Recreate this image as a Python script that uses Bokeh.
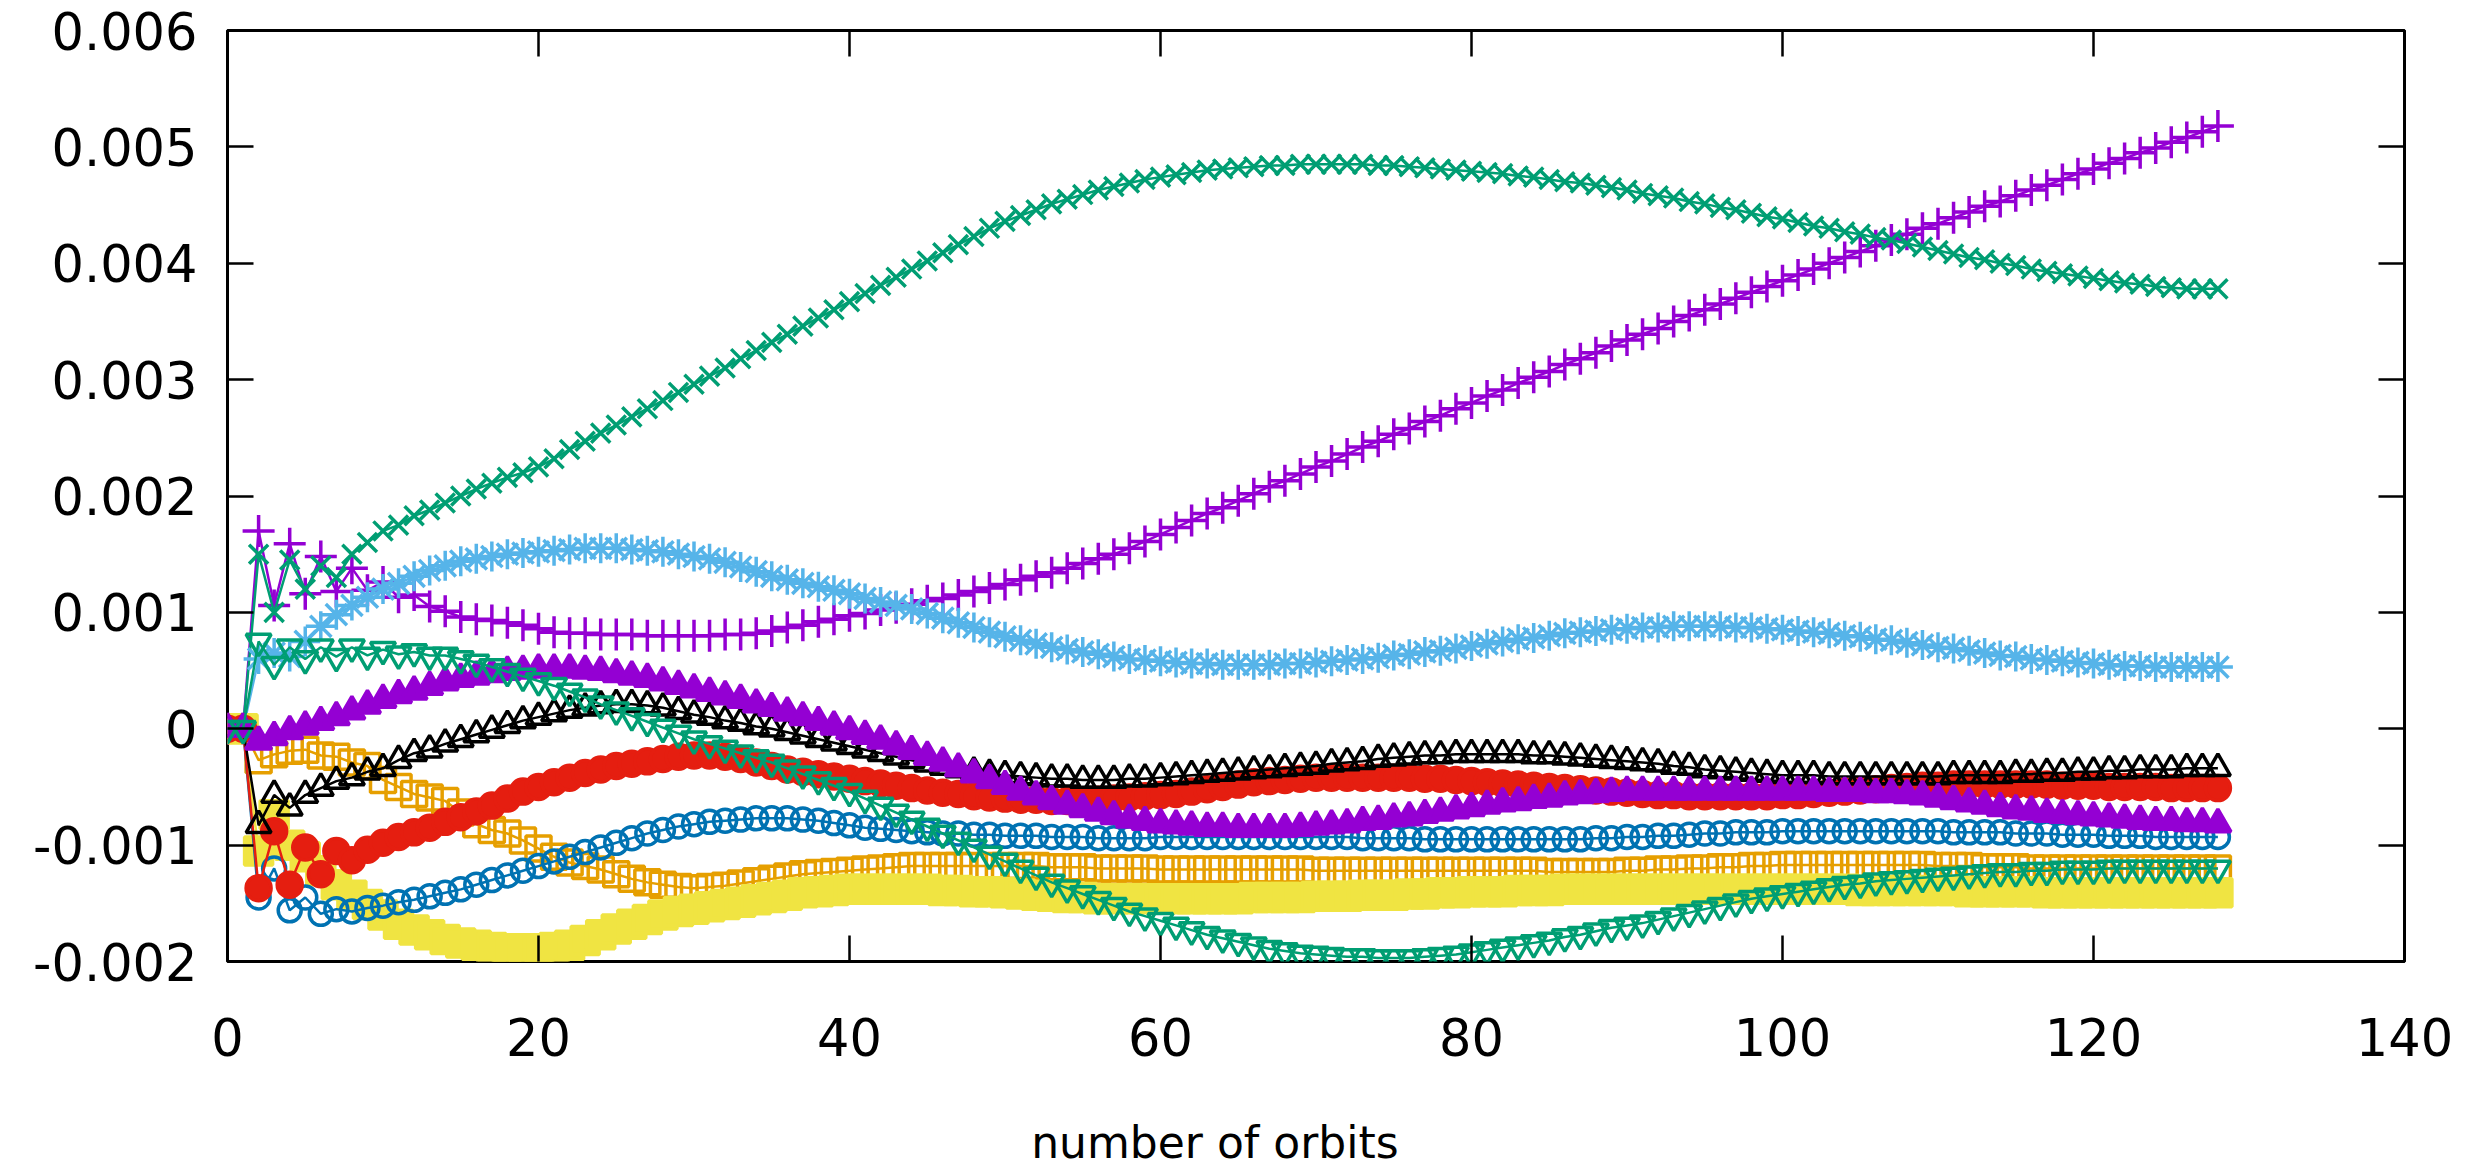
from bokeh.plotting import figure
from bokeh.models import Range1d, LinearAxis, FixedTicker
from bokeh.embed import file_html
from bokeh.resources import INLINE

# Orbit number (x) and the ten tracked quantities, values in units of 1e-4
orbits = list(range(129))

violet_plus = [
    0, 0, 17.0, 10.6, 15.9, 11.6, 14.8, 11.8, 13.8, 11.9,
    12.6, 11.3, 11.5, 10.5, 10.1, 9.6, 9.4, 9.3, 9.1, 8.9,
    8.6, 8.3, 8.2, 8.2, 8.1, 8.1, 8.1, 8.0, 8.0, 8.0,
    8.0, 8.0, 8.1, 8.1, 8.2, 8.4, 8.7, 8.9, 9.2, 9.4,
    9.7, 9.9, 10.2, 10.4, 10.7, 11.0, 11.2, 11.5, 11.8, 12.1,
    12.4, 12.8, 13.1, 13.4, 13.8, 14.2, 14.6, 15.0, 15.5, 16.1,
    16.7, 17.3, 17.9, 18.5, 19.0, 19.6, 20.2, 20.8, 21.3, 21.9,
    22.5, 23.0, 23.6, 24.2, 24.7, 25.3, 25.8, 26.4, 26.9, 27.5,
    28.0, 28.6, 29.1, 29.7, 30.2, 30.7, 31.3, 31.8, 32.3, 32.9,
    33.4, 33.9, 34.4, 35.0, 35.5, 36.0, 36.5, 37.0, 37.5, 38.0,
    38.5, 39.0, 39.5, 40.0, 40.5, 41.0, 41.5, 42.0, 42.5, 43.0,
    43.4, 43.9, 44.4, 44.9, 45.3, 45.8, 46.3, 46.7, 47.2, 47.7,
    48.1, 48.6, 49.0, 49.5, 49.9, 50.4, 50.8, 51.3, 51.8,
]

green_cross = [
    0, 0, 15.0, 10.0, 14.5, 12.0, 14.0, 13.0, 15.0, 16.0,
    17.0, 17.5, 18.3, 18.8, 19.4, 20.0, 20.6, 21.1, 21.6, 22.0,
    22.5, 23.2, 24.0, 24.7, 25.4, 26.1, 26.8, 27.5, 28.2, 28.9,
    29.6, 30.3, 31.0, 31.8, 32.5, 33.2, 33.9, 34.6, 35.3, 36.0,
    36.7, 37.4, 38.1, 38.8, 39.5, 40.2, 40.9, 41.6, 42.3, 43.0,
    43.6, 44.1, 44.6, 45.1, 45.5, 45.9, 46.3, 46.6, 46.9, 47.2,
    47.4, 47.6, 47.8, 48.0, 48.1, 48.2, 48.3, 48.4, 48.4, 48.5,
    48.5, 48.5, 48.5, 48.5, 48.4, 48.4, 48.3, 48.2, 48.1, 48.0,
    47.9, 47.8, 47.7, 47.5, 47.4, 47.2, 47.0, 46.9, 46.7, 46.5,
    46.3, 46.0, 45.8, 45.6, 45.3, 45.1, 44.8, 44.6, 44.3, 44.0,
    43.8, 43.5, 43.2, 43.0, 42.7, 42.5, 42.2, 42.0, 41.7, 41.4,
    41.1, 40.8, 40.5, 40.3, 40.0, 39.8, 39.5, 39.3, 39.1, 38.9,
    38.7, 38.5, 38.3, 38.2, 38.0, 37.9, 37.8, 37.8, 37.8,
]

sky_star = [
    0, 0, 6.0, 6.5, 6.2, 7.5, 8.8, 9.8, 10.6, 11.3,
    12.0, 12.5, 13.1, 13.6, 14.0, 14.4, 14.6, 14.8, 15.0, 15.1,
    15.2, 15.3, 15.4, 15.5, 15.5, 15.5, 15.4, 15.3, 15.2, 15.0,
    14.8, 14.6, 14.3, 13.9, 13.5, 13.1, 12.8, 12.5, 12.2, 11.9,
    11.6, 11.2, 10.9, 10.6, 10.3, 9.9, 9.5, 9.1, 8.7, 8.3,
    7.9, 7.6, 7.3, 7.0, 6.8, 6.6, 6.4, 6.2, 6.0, 5.9,
    5.8, 5.7, 5.6, 5.6, 5.5, 5.5, 5.5, 5.5, 5.6, 5.6,
    5.7, 5.8, 5.9, 6.0, 6.1, 6.3, 6.4, 6.6, 6.7, 6.9,
    7.1, 7.3, 7.5, 7.7, 7.8, 8.0, 8.2, 8.3, 8.4, 8.5,
    8.6, 8.7, 8.7, 8.8, 8.8, 8.8, 8.8, 8.7, 8.7, 8.6,
    8.5, 8.4, 8.3, 8.2, 8.0, 7.9, 7.7, 7.6, 7.4, 7.2,
    7.0, 6.9, 6.7, 6.5, 6.3, 6.2, 6.0, 5.9, 5.8, 5.7,
    5.6, 5.5, 5.4, 5.4, 5.3, 5.3, 5.3, 5.3, 5.3,
]

orange_box = [
    0, 0, -2.7, -2.2, -1.9, -1.8, -2.3, -2.4, -2.9, -3.2,
    -4.4, -5.0, -5.6, -5.9, -6.2, -7.2, -8.2, -8.7, -9.0, -9.6,
    -10.3, -11.0, -11.5, -11.8, -12.1, -12.5, -12.9, -13.2, -13.4, -13.6,
    -13.7, -13.6, -13.5, -13.3, -13.1, -12.9, -12.7, -12.5, -12.4, -12.3,
    -12.2, -12.1, -12.0, -11.9, -11.8, -11.8, -11.8, -11.8, -11.8, -11.8,
    -11.8, -11.8, -11.8, -11.9, -11.9, -11.9, -12.0, -12.0, -12.0, -12.0,
    -12.1, -12.1, -12.1, -12.1, -12.1, -12.1, -12.1, -12.1, -12.1, -12.1,
    -12.2, -12.2, -12.2, -12.2, -12.2, -12.2, -12.2, -12.2, -12.2, -12.2,
    -12.2, -12.2, -12.2, -12.2, -12.2, -12.3, -12.3, -12.3, -12.3, -12.3,
    -12.2, -12.2, -12.1, -12.1, -12.0, -12.0, -11.9, -11.9, -11.8, -11.8,
    -11.7, -11.7, -11.7, -11.7, -11.7, -11.7, -11.7, -11.7, -11.7, -11.7,
    -11.8, -11.8, -11.8, -11.9, -11.9, -11.9, -12.0, -12.0, -12.0, -12.0,
    -12.0, -12.0, -12.0, -12.0, -12.0, -12.0, -12.0, -12.0, -12.0,
]

yellow_box = [
    0, 0, -10.5, -7.4, -10.0, -11.0, -12.2, -13.4, -14.3, -15.1,
    -16.0, -16.8, -17.3, -17.7, -18.1, -18.4, -18.6, -18.8, -18.9, -18.9,
    -18.9, -18.8, -18.6, -18.2, -17.7, -17.2, -16.8, -16.4, -16.0, -15.7,
    -15.5, -15.3, -15.1, -14.9, -14.7, -14.5, -14.3, -14.1, -14.0, -13.9,
    -13.8, -13.8, -13.8, -13.8, -13.8, -13.8, -13.9, -13.9, -14.0, -14.0,
    -14.1, -14.2, -14.3, -14.4, -14.5, -14.5, -14.6, -14.6, -14.6, -14.6,
    -14.6, -14.6, -14.6, -14.6, -14.6, -14.6, -14.5, -14.5, -14.5, -14.5,
    -14.4, -14.4, -14.4, -14.3, -14.3, -14.3, -14.2, -14.2, -14.1, -14.1,
    -14.0, -14.0, -14.0, -13.9, -13.9, -13.9, -13.8, -13.8, -13.8, -13.8,
    -13.8, -13.8, -13.8, -13.8, -13.8, -13.8, -13.8, -13.8, -13.8, -13.8,
    -13.8, -13.8, -13.8, -13.8, -13.8, -13.9, -13.9, -13.9, -13.9, -13.9,
    -13.9, -13.9, -14.0, -14.0, -14.0, -14.0, -14.0, -14.1, -14.1, -14.1,
    -14.1, -14.1, -14.1, -14.1, -14.1, -14.1, -14.1, -14.1, -14.1,
]

blue_ring = [
    0, 0, -14.5, -12.0, -15.6, -14.5, -15.9, -15.5, -15.7, -15.4,
    -15.2, -14.9, -14.7, -14.4, -14.1, -13.8, -13.4, -13.0, -12.6, -12.2,
    -11.8, -11.4, -11.0, -10.6, -10.2, -9.8, -9.4, -9.0, -8.7, -8.4,
    -8.2, -8.0, -7.9, -7.8, -7.7, -7.7, -7.7, -7.8, -7.9, -8.1,
    -8.3, -8.5, -8.6, -8.7, -8.8, -8.9, -9.0, -9.0, -9.1, -9.1,
    -9.2, -9.2, -9.2, -9.3, -9.3, -9.3, -9.4, -9.4, -9.4, -9.4,
    -9.3, -9.3, -9.3, -9.3, -9.3, -9.3, -9.3, -9.3, -9.3, -9.3,
    -9.3, -9.3, -9.3, -9.4, -9.4, -9.4, -9.4, -9.5, -9.5, -9.5,
    -9.5, -9.5, -9.5, -9.5, -9.5, -9.5, -9.5, -9.5, -9.4, -9.4,
    -9.3, -9.3, -9.2, -9.2, -9.1, -9.0, -9.0, -8.9, -8.9, -8.9,
    -8.8, -8.8, -8.8, -8.8, -8.8, -8.8, -8.8, -8.8, -8.8, -8.8,
    -8.8, -8.9, -8.9, -8.9, -8.9, -9.0, -9.0, -9.0, -9.1, -9.1,
    -9.1, -9.2, -9.2, -9.2, -9.3, -9.3, -9.3, -9.3, -9.3,
]

red_disc = [
    0, 0, -13.7, -8.8, -13.4, -10.2, -12.5, -10.5, -11.3, -10.4,
    -9.8, -9.3, -8.9, -8.5, -8.0, -7.6, -7.1, -6.6, -6.0, -5.4,
    -5.0, -4.6, -4.2, -3.8, -3.5, -3.2, -3.0, -2.8, -2.6, -2.4,
    -2.3, -2.3, -2.4, -2.6, -2.9, -3.2, -3.5, -3.7, -3.9, -4.1,
    -4.3, -4.5, -4.7, -4.9, -5.1, -5.3, -5.5, -5.6, -5.8, -5.9,
    -6.0, -6.1, -6.1, -6.2, -6.2, -6.2, -6.1, -6.0, -5.9, -5.8,
    -5.7, -5.6, -5.4, -5.2, -5.0, -4.8, -4.6, -4.5, -4.4, -4.3,
    -4.2, -4.2, -4.2, -4.2, -4.2, -4.2, -4.2, -4.3, -4.3, -4.4,
    -4.5, -4.6, -4.7, -4.8, -4.9, -5.0, -5.1, -5.2, -5.3, -5.4,
    -5.5, -5.6, -5.7, -5.7, -5.8, -5.8, -5.8, -5.8, -5.8, -5.8,
    -5.7, -5.7, -5.6, -5.5, -5.4, -5.3, -5.2, -5.1, -5.0, -4.9,
    -4.9, -4.8, -4.8, -4.8, -4.8, -4.8, -4.8, -4.8, -4.9, -4.9,
    -4.9, -5.0, -5.0, -5.0, -5.0, -5.1, -5.1, -5.1, -5.1,
]

black_tri = [
    0, 0, -8.3, -5.7, -6.8, -5.7, -5.1, -4.5, -4.2, -3.7,
    -3.4, -2.7, -2.1, -1.8, -1.3, -0.9, -0.5, -0.1, 0.3, 0.7,
    1.0, 1.3, 1.6, 1.8, 2.0, 2.1, 2.1, 2.0, 1.8, 1.5,
    1.2, 1.0, 0.7, 0.5, 0.2, 0.0, -0.3, -0.6, -0.9, -1.2,
    -1.5, -1.8, -2.1, -2.4, -2.7, -3.0, -3.3, -3.5, -3.7, -3.9,
    -4.0, -4.1, -4.2, -4.3, -4.3, -4.4, -4.4, -4.4, -4.3, -4.3,
    -4.2, -4.1, -4.0, -3.9, -3.8, -3.7, -3.6, -3.5, -3.4, -3.3,
    -3.2, -3.0, -2.9, -2.8, -2.6, -2.5, -2.4, -2.3, -2.3, -2.2,
    -2.2, -2.2, -2.2, -2.2, -2.3, -2.3, -2.4, -2.5, -2.6, -2.7,
    -2.8, -2.9, -3.0, -3.2, -3.3, -3.5, -3.6, -3.7, -3.8, -3.9,
    -4.0, -4.0, -4.0, -4.1, -4.1, -4.1, -4.1, -4.1, -4.1, -4.1,
    -4.1, -4.0, -4.0, -4.0, -4.0, -3.9, -3.9, -3.8, -3.8, -3.7,
    -3.7, -3.6, -3.6, -3.5, -3.5, -3.5, -3.4, -3.4, -3.4,
]

violet_tri = [
    0, 0, -1.1, -0.7, -0.2, 0.2, 0.6, 1.0, 1.5, 2.0,
    2.5, 2.9, 3.2, 3.6, 4.0, 4.3, 4.5, 4.7, 4.9, 5.0,
    5.1, 5.1, 5.1, 5.0, 4.9, 4.7, 4.5, 4.3, 4.0, 3.7,
    3.4, 3.1, 2.8, 2.5, 2.1, 1.8, 1.4, 1.0, 0.6, 0.2,
    -0.2, -0.6, -1.0, -1.5, -1.9, -2.4, -2.9, -3.4, -3.9, -4.4,
    -4.9, -5.4, -5.8, -6.2, -6.6, -6.9, -7.2, -7.5, -7.8, -8.0,
    -8.2, -8.3, -8.4, -8.5, -8.5, -8.6, -8.6, -8.6, -8.6, -8.5,
    -8.4, -8.3, -8.2, -8.0, -7.9, -7.7, -7.6, -7.4, -7.2, -7.0,
    -6.8, -6.6, -6.4, -6.3, -6.1, -6.0, -5.8, -5.7, -5.6, -5.5,
    -5.4, -5.4, -5.4, -5.4, -5.4, -5.4, -5.4, -5.4, -5.4, -5.4,
    -5.4, -5.4, -5.4, -5.5, -5.5, -5.5, -5.6, -5.6, -5.7, -5.8,
    -6.0, -6.2, -6.4, -6.6, -6.8, -7.0, -7.1, -7.3, -7.4, -7.5,
    -7.6, -7.7, -7.8, -7.9, -8.0, -8.0, -8.1, -8.1, -8.2,
]

green_down_tri = [
    0, 0, 7.5, 5.5, 7.0, 6.0, 7.0, 6.2, 7.0, 6.3,
    6.8, 6.4, 6.6, 6.3, 6.3, 6.0, 5.7, 5.3, 4.9, 4.5,
    4.1, 3.7, 3.2, 2.7, 2.1, 1.6, 1.1, 0.6, 0.1, -0.4,
    -0.9, -1.3, -1.7, -2.1, -2.5, -2.9, -3.4, -3.9, -4.4, -4.9,
    -5.4, -6.0, -6.6, -7.2, -7.8, -8.4, -9.0, -9.6, -10.2, -10.8,
    -11.4, -12.0, -12.6, -13.2, -13.7, -14.2, -14.7, -15.2, -15.7, -16.1,
    -16.5, -16.9, -17.3, -17.7, -18.0, -18.3, -18.6, -18.9, -19.1, -19.3,
    -19.4, -19.5, -19.6, -19.6, -19.7, -19.7, -19.7, -19.6, -19.5, -19.4,
    -19.2, -19.0, -18.8, -18.6, -18.4, -18.2, -17.9, -17.7, -17.4, -17.1,
    -16.9, -16.7, -16.4, -16.1, -15.8, -15.5, -15.2, -14.9, -14.6, -14.4,
    -14.2, -14.0, -13.8, -13.6, -13.4, -13.3, -13.1, -13.0, -12.9, -12.8,
    -12.7, -12.6, -12.5, -12.4, -12.3, -12.3, -12.2, -12.2, -12.1, -12.1,
    -12.1, -12.0, -12.0, -12.0, -12.0, -12.0, -12.0, -12.0, -12.0,
]

x_ticks = [0, 20, 40, 60, 80, 100, 120, 140]
y_ticks = [-0.002, -0.001, 0.0, 0.001, 0.002, 0.003, 0.004, 0.005, 0.006]
y_tick_labels = ["-0.002", "-0.001", "0", "0.001", "0.002", "0.003",
                 "0.004", "0.005", "0.006"]
x_title = "number of orbits"
X_TITLE_AT = 63.5  # horizontal centre of the x title, in orbits

UNIT = 1e-4

# (values, marker, colour, filled, marker size) in gnuplot's default cycle
series = [
    (violet_plus, "cross", "#9400d3", False, 32),
    (green_cross, "x", "#009e73", False, 27),
    (sky_star, "asterisk", "#56b4e9", False, 30),
    (orange_box, "square", "#e69f00", False, 25),
    (yellow_box, "square", "#f0e442", True, 28),
    (blue_ring, "circle", "#0072b2", False, 23),
    (red_disc, "circle", "#e51e10", True, 25),
    (black_tri, "triangle", "#000000", False, 25),
    (violet_tri, "triangle", "#9400d3", True, 26),
    (green_down_tri, "inverted_triangle", "#009e73", False, 25),
]

FONT = "DejaVu Sans"

p = figure(
    width=2473, height=1170,
    x_range=Range1d(0, 140), y_range=Range1d(-0.002, 0.006),
    output_backend="svg", toolbar_location=None,
    min_border_left=227, min_border_right=69,
    min_border_top=30, min_border_bottom=206,
    background_fill_color="white", border_fill_color="white",
)
p.grid.visible = False
p.outline_line_color = "black"
p.outline_line_width = 3

for values, marker, colour, filled, size in series:
    ys = [v * UNIT for v in values]
    p.line(orbits, ys, line_color=colour, line_width=2.5)
    p.scatter(orbits, ys, marker=marker, size=size,
              line_color=colour, line_width=3.5,
              fill_color=colour if filled else None)


def style_axis(axis, show_labels):
    axis.axis_line_color = None
    axis.major_tick_in = 26
    axis.major_tick_out = 0
    axis.minor_tick_in = 0
    axis.minor_tick_out = 0
    axis.major_tick_line_color = "black"
    axis.major_tick_line_width = 2.5
    axis.major_label_text_font = FONT
    axis.major_label_text_color = "black"
    if show_labels:
        axis.major_label_text_font_size = "51px"
    else:
        axis.major_label_text_font_size = "0px"
        axis.major_label_standoff = 0


xa = p.xaxis[0]
ya = p.yaxis[0]
xa.ticker = FixedTicker(ticks=x_ticks)
ya.ticker = FixedTicker(ticks=y_ticks)
xa.major_label_overrides = {t: str(t) for t in x_ticks}
ya.major_label_overrides = dict(zip(y_ticks, y_tick_labels))
style_axis(xa, True)
style_axis(ya, True)
xa.major_label_standoff = 56
ya.major_label_standoff = 30

# x title: a tick-less axis row below the tick labels, its single label
# centred at X_TITLE_AT
title_row = LinearAxis(ticker=FixedTicker(ticks=[X_TITLE_AT]))
title_row.axis_line_color = None
title_row.major_tick_in = 0
title_row.major_tick_out = 0
title_row.minor_tick_in = 0
title_row.minor_tick_out = 0
title_row.major_label_overrides = {X_TITLE_AT: x_title}
title_row.major_label_text_font = FONT
title_row.major_label_text_font_size = "44px"
title_row.major_label_text_color = "black"
title_row.major_label_standoff = 58
p.add_layout(title_row, "below")

top = LinearAxis(ticker=FixedTicker(ticks=x_ticks))
style_axis(top, False)
top.major_label_overrides = {t: "" for t in x_ticks}
p.add_layout(top, "above")

right = LinearAxis(ticker=FixedTicker(ticks=y_ticks))
style_axis(right, False)
right.major_label_overrides = {t: "" for t in y_ticks}
p.add_layout(right, "right")

open("out.html", "w").write(file_html(p, INLINE))
